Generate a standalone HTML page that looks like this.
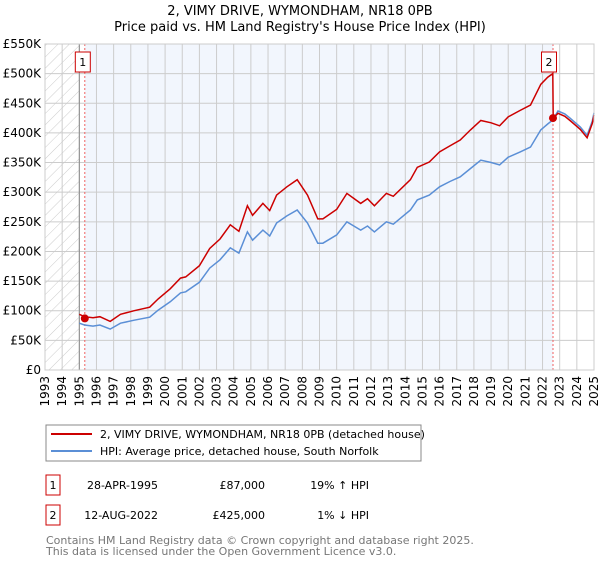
<!DOCTYPE html>
<html><head><meta charset="utf-8">
<style>
body{margin:0;background:#fff;font-family:"Liberation Sans","DejaVu Sans",sans-serif;}
svg text{font-family:"DejaVu Sans","Liberation Sans",sans-serif;}
</style></head>
<body>
<svg id="chart" width="600" height="560" xmlns="http://www.w3.org/2000/svg">
<defs>
<pattern id="hatch" patternUnits="userSpaceOnUse" width="8" height="8" patternTransform="rotate(45)">
<line x1="0" y1="0" x2="0" y2="8" stroke="#ccc" stroke-width="1"/>
</pattern>
</defs>
<text x="300" y="15" text-anchor="middle" font-size="13">2, VIMY DRIVE, WYMONDHAM, NR18 0PB</text>
<text x="300" y="31" text-anchor="middle" font-size="13">Price paid vs. HM Land Registry's House Price Index (HPI)</text>
<g id="plot"></g>
<g>
<rect x="46" y="425" width="375" height="36" fill="#fff" stroke="#888"/>
<line x1="51" y1="434" x2="92" y2="434" stroke="#cc0000" stroke-width="2"/>
<text x="100" y="438" font-size="11">2, VIMY DRIVE, WYMONDHAM, NR18 0PB (detached house)</text>
<line x1="51" y1="451" x2="92" y2="451" stroke="#5b8fd6" stroke-width="2"/>
<text x="100" y="455" font-size="11">HPI: Average price, detached house, South Norfolk</text>
</g>
<g font-size="11">
<rect x="46" y="475" width="14" height="20" fill="#fff" stroke="#cc0000"/>
<text x="53" y="489" text-anchor="middle">1</text>
<text x="158" y="489" text-anchor="end">28-APR-1995</text>
<text x="265" y="489" text-anchor="end">£87,000</text>
<text x="369" y="489" text-anchor="end">19% ↑ HPI</text>
<rect x="46" y="505" width="14" height="20" fill="#fff" stroke="#cc0000"/>
<text x="53" y="519" text-anchor="middle">2</text>
<text x="158" y="519" text-anchor="end">12-AUG-2022</text>
<text x="265" y="519" text-anchor="end">£425,000</text>
<text x="369" y="519" text-anchor="end">1% ↓ HPI</text>
</g>
<text x="46" y="544" font-size="11" fill="#777">Contains HM Land Registry data © Crown copyright and database right 2025.</text>
<text x="46" y="555" font-size="11" fill="#777">This data is licensed under the Open Government Licence v3.0.</text>
</svg>
<script>
const hpiYears=[1995.0,1995.3,1995.8,1996.2,1996.8,1997.4,1998.2,1999.1,1999.6,2000.3,2000.9,2001.2,2002.0,2002.6,2003.2,2003.8,2004.3,2004.8,2005.1,2005.7,2006.1,2006.5,2007.1,2007.7,2008.3,2008.9,2009.2,2010.0,2010.6,2011.4,2011.8,2012.2,2012.9,2013.3,2014.3,2014.7,2015.4,2016.0,2016.6,2017.2,2017.8,2018.4,2019.0,2019.5,2020.0,2020.7,2021.3,2021.9,2022.3,2022.6,2022.9,2023.3,2023.6,2024.2,2024.6,2024.9,2025.0];
const hpiValues=[79,76,74,76,69,79,84,89,101,115,130,132,148,172,186,206,197,233,219,236,226,248,260,270,248,214,214,228,250,236,243,233,250,246,270,287,295,309,318,326,340,354,350,346,359,368,376,405,415,422,437,432,425,410,396,420,434];
const redYears=[1995.0,1995.3,1995.8,1996.2,1996.8,1997.4,1998.2,1999.1,1999.6,2000.3,2000.9,2001.2,2002.0,2002.6,2003.2,2003.8,2004.3,2004.8,2005.1,2005.7,2006.1,2006.5,2007.1,2007.7,2008.3,2008.9,2009.2,2010.0,2010.6,2011.4,2011.8,2012.2,2012.9,2013.3,2014.3,2014.7,2015.4,2016.0,2016.6,2017.2,2017.8,2018.4,2019.0,2019.5,2020.0,2020.7,2021.3,2021.9,2022.3,2022.6,2022.62,2022.9,2023.3,2023.6,2024.2,2024.6,2024.9,2025.0];
const redValues=[94,90,88,90,82,94,100,106,120,137,155,157,176,205,221,245,234,277,261,281,269,295,309,321,295,255,255,271,298,281,289,277,298,293,321,342,351,368,378,388,405,421,417,412,427,438,447,482,494,500,425,433,428,421,406,392,416,430];
const yTicks=[0,50,100,150,200,250,300,350,400,450,500,550];
const yTickLabels=["£0","£50K","£100K","£150K","£200K","£250K","£300K","£350K","£400K","£450K","£500K","£550K"];
const xTicks=[1993,1994,1995,1996,1997,1998,1999,2000,2001,2002,2003,2004,2005,2006,2007,2008,2009,2010,2011,2012,2013,2014,2015,2016,2017,2018,2019,2020,2021,2022,2023,2024,2025];
const sales=[{label:"1",year:1995.32,value:87},{label:"2",year:2022.61,value:425}];

const X0=45,X1=594,Y0=370,Y1=44;
const xs=y=>X0+(y-1993)/(2025-1993)*(X1-X0);
const ys=v=>Y0-v/550*(Y0-Y1);
const NS="http://www.w3.org/2000/svg";
const g=document.getElementById('plot');
function mk(t,a,p){const e=document.createElementNS(NS,t);for(const k in a)e.setAttribute(k,a[k]);(p||g).appendChild(e);return e;}

let r=mk('rect',{x:X0,y:Y1,width:xs(1995)-X0,height:Y0-Y1,fill:'url(#hatch)'});


r=mk('rect',{x:xs(sales[0].year),y:Y1,width:xs(sales[1].year)-xs(sales[0].year),height:Y0-Y1,fill:'#f2f6fd'});



yTicks.forEach((v,i)=>{
  const l=mk('line',{x1:X0,x2:X1,y1:ys(v),y2:ys(v),stroke:'#ccc','stroke-width':1});
  
  
  const t=mk('text',{x:X0-4,y:ys(v)+4,'text-anchor':'end','font-size':12});
  
  
  t.textContent=yTickLabels[i];
});
xTicks.forEach(yr=>{
  const l=mk('line',{x1:xs(yr),x2:xs(yr),y1:Y1,y2:Y0,stroke:'#ccc','stroke-width':1});
  
  
  const t=mk('text',{x:0,y:0,'text-anchor':'end','font-size':12,transform:`translate(${xs(yr)+4},376) rotate(-90)`});
  
  
  t.textContent=yr;
});
let ax=mk('line',{x1:xs(1995),x2:xs(1995),y1:Y1,y2:Y0,stroke:'#888','stroke-width':1});



sales.forEach(s=>{
  const l=mk('line',{x1:xs(s.year),x2:xs(s.year),y1:Y1,y2:Y0,stroke:'#f06060','stroke-width':1,'stroke-dasharray':'2,2'});
  
  
});

const hp=mk('path',{d:hpiYears.map((y,i)=>(i?'L':'M')+xs(y).toFixed(1)+','+ys(hpiValues[i]).toFixed(1)).join(''),fill:'none',stroke:'#5b8fd6','stroke-width':1.5});


const rp=mk('path',{d:redYears.map((y,i)=>(i?'L':'M')+xs(y).toFixed(1)+','+ys(redValues[i]).toFixed(1)).join(''),fill:'none',stroke:'#cc0000','stroke-width':1.5});



sales.forEach(s=>{
  const c=mk('circle',{cx:xs(s.year),cy:ys(s.value),r:4,fill:'#cc0000'});
  
  
  const bx=mk('rect',{x:xs(s.year)-7.5-(s.label==='1'?2:4),y:52,width:15,height:20,fill:'#fff',stroke:'#cc0000'});
  
  
  const t=mk('text',{x:xs(s.year)-(s.label==='1'?2:4),y:66,'text-anchor':'middle','font-size':11});
  
  
  t.textContent=s.label;
});
const fr=mk('rect',{x:X0,y:Y1,width:X1-X0,height:Y0-Y1,fill:'none',stroke:'#ccc'});


</script>
</body></html>
